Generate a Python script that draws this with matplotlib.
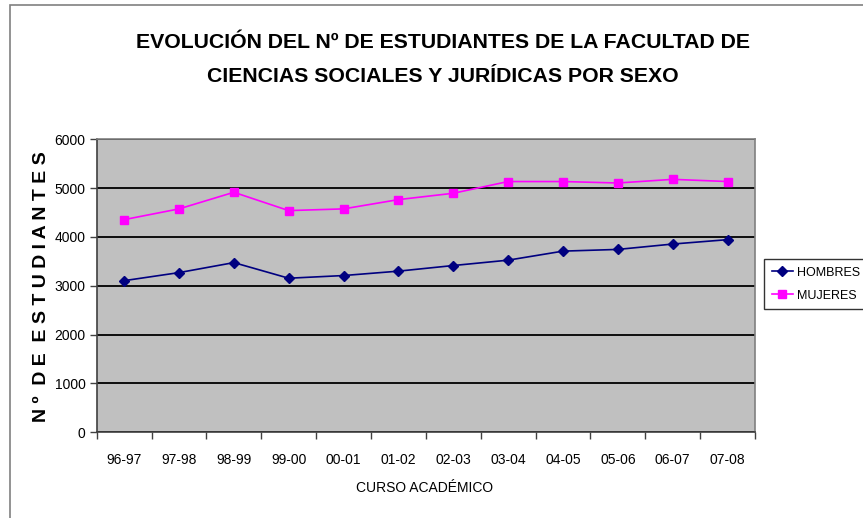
import matplotlib
matplotlib.use("Agg")
import matplotlib.pyplot as plt
from matplotlib.patches import Rectangle

cursos = ["96-97", "97-98", "98-99", "99-00", "00-01", "01-02",
          "02-03", "03-04", "04-05", "05-06", "06-07", "07-08"]
hombres = [3105, 3270, 3475, 3155, 3210, 3300, 3415, 3525, 3710, 3745, 3855, 3945]
mujeres = [4355, 4575, 4915, 4540, 4575, 4765, 4895, 5135, 5135, 5105, 5180, 5135]

plt.rcParams["font.family"] = ["Liberation Sans", "DejaVu Sans"]

fig = plt.figure(figsize=(8.63, 5.18), dpi=100)
ax = fig.add_axes([96.7 / 863, 1 - 432.3 / 518, (755 - 96.7) / 863, (432.3 - 139.3) / 518])

# marco del gráfico
fig.patches.append(Rectangle((10 / 863, -0.1), 1.1, 1 - 5 / 518 + 0.1, transform=fig.transFigure,
                             fill=False, edgecolor="#808080", linewidth=1.2))

ax.set_facecolor("#C0C0C0")
x = range(len(cursos))
ax.plot(x, hombres, color="#000080", marker="D", markersize=5, linewidth=1.2, label="HOMBRES")
ax.plot(x, mujeres, color="#FF00FF", marker="s", markersize=6, linewidth=1.2, label="MUJERES")

ax.set_xlim(-0.5, len(cursos) - 0.5)
ax.set_ylim(0, 6000)
ax.set_yticks(range(0, 6001, 1000))
ax.set_xticks([i - 0.5 for i in range(len(cursos) + 1)])
ax.set_xticklabels([])
ax.set_xticks(list(x), minor=True)
ax.set_xticklabels(cursos, minor=True)
ax.tick_params(axis="x", which="minor", length=0, pad=15, labelsize=10)
ax.tick_params(axis="x", which="major", length=5, width=1, color="#404040")
ax.tick_params(axis="y", length=5, width=1, color="#404040", labelsize=10, pad=3)
ax.grid(axis="y", color="black", linewidth=1.3)
ax.set_axisbelow(True)
for s in ax.spines.values():
    s.set_color("#808080")
    s.set_linewidth(1.2)
ax.spines["bottom"].set_color("#404040")
ax.spines["left"].set_color("#404040")

fig.text(443 / 863, 1 - 42 / 518, "EVOLUCIÓN DEL Nº DE ESTUDIANTES DE LA FACULTAD DE",
         ha="center", va="center", fontsize=15.3, fontweight="bold")
fig.text(443 / 863, 1 - 77 / 518, "CIENCIAS SOCIALES Y JURÍDICAS POR SEXO",
         ha="center", va="center", fontsize=15.3, fontweight="bold")
fig.text(42 / 863, 1 - 287 / 518, "N º  D E  E S T U D I A N T E S", rotation=90,
         ha="center", va="center", fontsize=14, fontweight="bold")
fig.text(425 / 863, 1 - 488 / 518, "CURSO ACADÉMICO", ha="center", va="center", fontsize=10)

leg = ax.legend(loc="upper left", bbox_to_anchor=(764 / 863, 1 - 259 / 518),
                bbox_transform=fig.transFigure, fontsize=9, frameon=True, fancybox=False,
                handlelength=1.7, handletextpad=0.3, borderpad=0.6, labelspacing=0.9,
                borderaxespad=0)
leg.get_frame().set_edgecolor("black")
leg.get_frame().set_linewidth(1)

fig.savefig("out.png", dpi=100)
